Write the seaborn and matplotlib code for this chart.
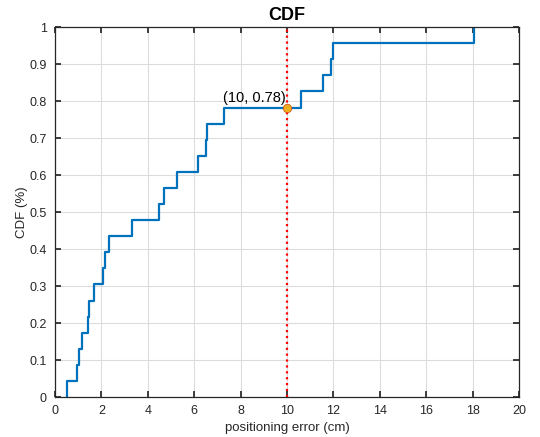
import matplotlib
matplotlib.use("Agg")
import matplotlib.pyplot as plt
import numpy as np
import pandas as pd
import seaborn as sns

# positioning errors (cm)
errors = [0.52, 0.93, 1.02, 1.16, 1.42, 1.46, 1.68, 2.06, 2.15, 2.31,
          3.32, 4.48, 4.71, 5.27, 6.15, 6.52, 6.56, 7.27, 10.6, 11.55,
          11.88, 11.98, 18.08]
x_ticks = list(range(0, 21, 2))
y_ticks = [0, 0.1, 0.2, 0.3, 0.4, 0.5, 0.6, 0.7, 0.8, 0.9, 1]
y_tick_labels = ["0", "0.1", "0.2", "0.3", "0.4", "0.5", "0.6", "0.7", "0.8", "0.9", "1"]
mark_x = 10
mark_y = 0.7826

sns.set_theme(style="ticks")
plt.rcParams['font.family'] = ['Liberation Sans', 'DejaVu Sans']

# empirical cdf, starting at the first sample with y = 0
xs = np.sort(np.array(errors))
n = len(xs)
cdf_df = pd.DataFrame({
    "x": np.concatenate([[xs[0]], xs]),
    "y": np.concatenate([[0.0], np.arange(1, n + 1) / n]),
})

fig = plt.figure(figsize=(5.4, 4.37), dpi=100)
ax = fig.add_axes([0.102, 0.0915, 0.859, 0.8465])

sns.lineplot(data=cdf_df, x="x", y="y", drawstyle="steps-post",
             color="#0072BD", linewidth=1.6, ax=ax, estimator=None, sort=False)

ax.axvline(mark_x, color="red", linestyle=":", linewidth=1.6)
ax.plot([mark_x], [mark_y], marker="o", markersize=6,
        markerfacecolor="#EDB120", markeredgecolor="#D95319", markeredgewidth=0.6)
ax.text(mark_x - 0.05, mark_y + 0.008, "(10, 0.78)", ha="right", va="bottom",
        fontsize=10.5, color="black")

ax.set_xlim(0, 20)
ax.set_ylim(0, 1)
ax.set_xticks(x_ticks)
ax.set_yticks(y_ticks)
ax.set_yticklabels(y_tick_labels)
ax.grid(True, color="#dcdcdc", linewidth=0.8)
ax.set_axisbelow(True)
ax.tick_params(direction="in", top=True, right=True, labelsize=9,
               length=4, color="#262626", labelcolor="#262626")
ax.tick_params(axis="x", pad=6)
ax.tick_params(axis="y", pad=6)
for s in ax.spines.values():
    s.set_visible(True)
    s.set_color("#262626")
    s.set_linewidth(0.9)

ax.set_xlabel("positioning error (cm)", fontsize=9.5, color="#262626", labelpad=3)
ax.set_ylabel("CDF (%)", fontsize=9.5, color="#262626", labelpad=1)
ax.set_title("CDF", fontsize=13, fontweight="bold", color="black", pad=5)

fig.savefig("out.png", dpi=100)
